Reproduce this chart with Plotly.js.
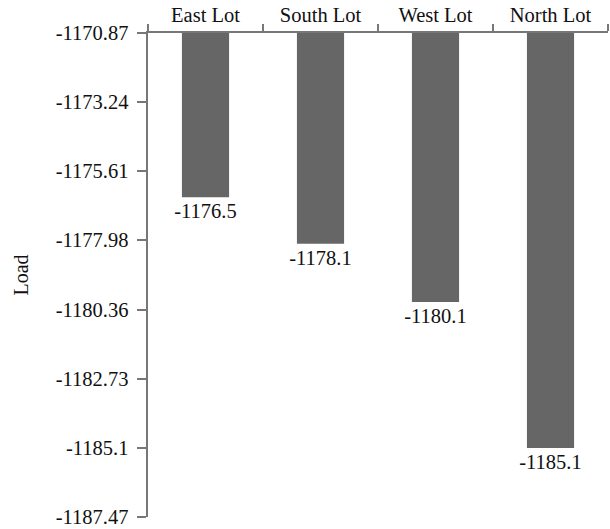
<!DOCTYPE html>
<html>
<head>
<meta charset="utf-8">
<script src="https://cdn.plot.ly/plotly-3.0.1.min.js"></script>
<style>html,body{margin:0;padding:0;background:#fff;}#chart{width:610px;height:529px;}</style>
</head>
<body>
<div id="chart"></div>
<script>
var categories = ["East Lot", "South Lot", "West Lot", "North Lot"];
var loadValues = [-1176.5, -1178.1, -1180.1, -1185.1];
var valueLabels = ["-1176.5", "-1178.1", "-1180.1", "-1185.1"];
var yTickVals = [-1170.87, -1173.24, -1175.61, -1177.98, -1180.36, -1182.73, -1185.1, -1187.47];
var yTickText = ["-1170.87", "-1173.24", "-1175.61", "-1177.98", "-1180.36", "-1182.73", "-1185.1", "-1187.47"];

var font = {family: "Liberation Serif, Times New Roman, serif", size: 20.5, color: "#111"};

var trace = {
  type: "bar",
  x: categories,
  y: loadValues,
  text: valueLabels,
  textposition: "outside",
  constraintext: "none",
  cliponaxis: false,
  textfont: font,
  marker: {color: "#666666"},
  hoverinfo: "none"
};

var layout = {
  width: 610, height: 529,
  margin: {l: 148, r: 2, t: 33, b: 12},
  paper_bgcolor: "#fff", plot_bgcolor: "#fff",
  font: font,
  showlegend: false,
  bargap: 0.59,
  xaxis: {
    side: "top",
    type: "category",
    range: [-0.5, 3.5],
    tickson: "boundaries",
    ticks: "outside", ticklen: 7, tickwidth: 2, tickcolor: "#777",
    showline: true, linecolor: "#777", linewidth: 2.5,
    showgrid: false, zeroline: false,
    tickfont: font
  },
  yaxis: {
    range: [-1187.47, -1170.87],
    tickmode: "array", tickvals: yTickVals, ticktext: yTickText,
    ticks: "outside", ticklen: 9, tickwidth: 2, tickcolor: "#777",
    ticklabelstandoff: 4,
    ticklabeloverflow: "allow",
    showline: true, linecolor: "#777", linewidth: 2.5,
    showgrid: false, zeroline: false,
    tickfont: font,
    title: {text: "Load", font: {family: font.family, size: 20, color: "#111"}, standoff: 22},
    automargin: false
  }
};

Plotly.newPlot("chart", [trace], layout, {displayModeBar: false, staticPlot: true});
</script>
</body>
</html>
